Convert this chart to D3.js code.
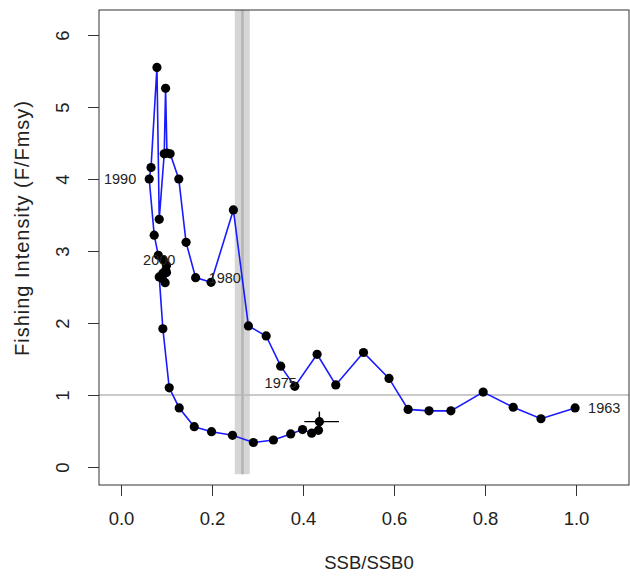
<!DOCTYPE html>
<html lang="en">
<head>
    <meta charset="UTF-8">
    <script src="https://d3js.org/d3.v7.min.js"></script>
    <title>Kobe plot</title>
    <style>
        body { margin: 0; background: #fff; }
        text { font-family: 'Liberation Sans', Arial, sans-serif; fill: #222; }
        text.tick { font-size: 18.5px; }
        text.title { font-size: 18.5px; }
        text.ytitle { font-size: 20px; letter-spacing: 1px; }
        text.year { font-size: 14.5px; }
    </style>
</head>
<body>
<svg height="577" width="630"></svg>
<script>
    const width = 630, height = 577;

    // year sequence and trajectory
    const years = d3.range(1963, 2014);
    const ssb = [0.998, 0.923, 0.862, 0.796, 0.725, 0.677, 0.631, 0.589, 0.533, 0.472,
        0.431, 0.382, 0.351, 0.319, 0.280, 0.247, 0.198, 0.164, 0.143, 0.127,
        0.108, 0.101, 0.098, 0.095, 0.084, 0.079, 0.066, 0.062,
        0.073, 0.082, 0.093, 0.100, 0.098, 0.092, 0.100, 0.097, 0.090, 0.084,
        0.092, 0.106, 0.128, 0.161, 0.199, 0.245, 0.291, 0.335, 0.373, 0.399,
        0.419, 0.434, 0.436];
    const fRatio = [0.82, 0.67, 0.83, 1.04, 0.78, 0.78, 0.80, 1.23, 1.59, 1.14,
        1.565, 1.12, 1.40, 1.82, 1.96, 3.57, 2.565, 2.63, 3.12, 4.00,
        4.35, 4.36, 5.26, 4.35, 3.44, 5.55, 4.16, 4.00,
        3.22, 2.94, 2.88, 2.80, 2.73, 2.69, 2.70, 2.56, 2.62, 2.64,
        1.92, 1.10, 0.82, 0.56, 0.49, 0.44, 0.34, 0.375, 0.46, 0.52,
        0.47, 0.51, 0.63];

    const labelYears = [1963, 1975, 1980, 1990, 2000];
    const ssbInterval = [0.403, 0.479];   // last year
    const fInterval = [0.50, 0.77];
    const fTarget = 1;
    const ssbTarget = 0.267, ssbTargetRange = [0.250, 0.283];
    const xTicks = [0, 0.2, 0.4, 0.6, 0.8, 1.0];
    const yTicks = [0, 1, 2, 3, 4, 5, 6];

    const x = d3.scaleLinear().domain([0, 1]).range([121, 576]);
    const y = d3.scaleLinear().domain([0, 6]).range([467, 35]);
    const pLeft = 99, pRight = 629, pTop = 10, pBottom = 485;

    const svg = d3.select("svg");
    svg.append("clipPath").attr("id", "plotclip")
        .append("rect").attr("x", pLeft).attr("y", pTop)
        .attr("width", pRight - pLeft).attr("height", pBottom - pTop);

    const plot = svg.append("g").attr("clip-path", "url(#plotclip)");

    // target band for SSB
    plot.append("rect")
        .attr("x", x(ssbTargetRange[0])).attr("y", pTop)
        .attr("width", x(ssbTargetRange[1]) - x(ssbTargetRange[0]))
        .attr("height", y(-0.1) - pTop)
        .style("fill", "#d6d6d6");
    plot.append("line")
        .attr("x1", x(ssbTarget)).attr("x2", x(ssbTarget))
        .attr("y1", pTop).attr("y2", y(-0.1))
        .style("stroke", "#b4b4b4").style("stroke-width", 2.5);

    // F = Fmsy line
    plot.append("line")
        .attr("x1", pLeft).attr("x2", pRight)
        .attr("y1", y(fTarget)).attr("y2", y(fTarget))
        .style("stroke", "#b8b8b8").style("stroke-width", 1.5);

    const pts = years.map((yr, i) => ({year: yr, s: ssb[i], f: fRatio[i]}));

    plot.append("path").datum(pts)
        .attr("d", d3.line().x(d => x(d.s)).y(d => y(d.f)))
        .style("fill", "none").style("stroke", "#1a1aff").style("stroke-width", 1.6);

    plot.selectAll("circle").data(pts).enter().append("circle")
        .attr("cx", d => x(d.s)).attr("cy", d => y(d.f)).attr("r", 4.6)
        .style("fill", "#000");

    // uncertainty on the final year
    const last = pts[pts.length - 1];
    plot.append("line")
        .attr("x1", x(ssbInterval[0])).attr("x2", x(ssbInterval[1]))
        .attr("y1", y(last.f)).attr("y2", y(last.f))
        .style("stroke", "#000").style("stroke-width", 1.4);
    plot.append("line")
        .attr("x1", x(last.s)).attr("x2", x(last.s))
        .attr("y1", y(fInterval[0])).attr("y2", y(fInterval[1]))
        .style("stroke", "#000").style("stroke-width", 1.4);

    // year labels, side like R's pos argument
    const side = {1963: 4, 1975: 1, 1980: 4, 1990: 2, 2000: 3};
    svg.selectAll("text.year").data(pts.filter(d => labelYears.includes(d.year)))
        .enter().append("text").attr("class", "year")
        .attr("x", d => x(d.s) + (side[d.year] === 4 ? 13 : side[d.year] === 2 ? -13 : 0))
        .attr("y", d => y(d.f) + (side[d.year] === 1 ? 17 : side[d.year] === 3 ? -17 : 0))
        .attr("dy", "0.35em")
        .attr("text-anchor", d => side[d.year] === 4 ? "start" : side[d.year] === 2 ? "end" : "middle")
        .text(d => d.year);

    // box
    svg.append("rect").attr("x", pLeft).attr("y", pTop)
        .attr("width", pRight - pLeft).attr("height", pBottom - pTop)
        .style("fill", "none").style("stroke", "#333").style("stroke-width", 1);

    // axes
    const xAxis = svg.append("g").attr("transform", `translate(0,${pBottom})`)
        .call(d3.axisBottom(x).tickValues(xTicks).tickSize(11).tickPadding(16)
            .tickFormat(d3.format(".1f")));
    const yAxis = svg.append("g").attr("transform", `translate(${pLeft},0)`)
        .call(d3.axisLeft(y).tickValues(yTicks).tickSize(11).tickFormat(d3.format("d")));
    [xAxis, yAxis].forEach(g => {
        g.attr("font-size", null).attr("font-family", null);
        g.select(".domain").remove();
        g.selectAll(".tick line").style("stroke", "#333");
        g.selectAll(".tick text").attr("class", "tick").attr("fill", "#222");
    });
    yAxis.selectAll(".tick text")
        .attr("x", null)
        .attr("text-anchor", "middle")
        .attr("transform", "translate(-36,0) rotate(-90)")
        .attr("dy", "0.35em");

    svg.append("text").attr("class", "title")
        .attr("x", 369).attr("y", 563).attr("dy", "0.35em")
        .attr("text-anchor", "middle").text("SSB/SSB0");
    svg.append("text").attr("class", "ytitle")
        .attr("transform", "translate(22,228) rotate(-90)")
        .attr("dy", "0.35em").attr("text-anchor", "middle")
        .text("Fishing Intensity (F/Fmsy)");
</script>
</body>
</html>
